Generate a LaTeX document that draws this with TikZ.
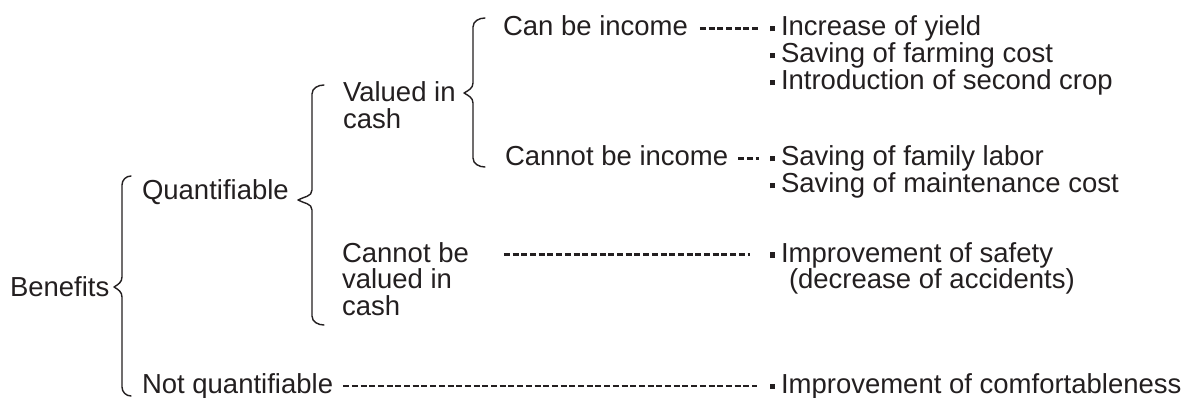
\documentclass[tikz,border=0pt]{standalone}
\usepackage{fontspec}
\setmainfont{Liberation Sans}
\usetikzlibrary{calc}
\definecolor{ink}{RGB}{35,31,32}
\newcommand\bulsq{\rule[4.5pt]{5pt}{5pt}\hspace{6pt}}
\newcommand\mybrace[6]{%
  \draw[brace] (#3,#4) to[out=180,in=90] (#1,#4+9) -- (#1,#6-10)
    to[out=270,in=30] (#2,#6) to[out=-30,in=90] (#1,#6+10) -- (#1,#5-9)
    to[out=270,in=180] (#3,#5);}
\begin{document}
\begin{tikzpicture}[x=1pt,y=-1pt,
  lbl/.style={anchor=base west, inner sep=0pt, outer sep=0pt, font=\fontsize{27.5}{32}\selectfont, text=ink},
  brace/.style={draw=ink, line width=1.4pt, line join=round, line cap=round},
  dashln/.style={draw=ink, line width=2.2pt, dash pattern=on 6pt off 2.7pt},
]
\useasboundingbox (0,0) rectangle (1184,398);
% labels
\node[lbl] (ben) at (10,297) {Benefits};
\node[lbl] (quant) at (142,200) {Quantifiable};
\node[lbl] (notq) at (142,393) {Not quantifiable};
\node[lbl] (val1) at (343,102) {Valued in};
\node[lbl] (val2) at (343,129) {cash};
\node[lbl] (cnv1) at (342,262) {Cannot be};
\node[lbl] (cnv2) at (342,289) {valued in};
\node[lbl] (cnv3) at (342,316) {cash};
\node[lbl] (canbe) at (503,36) {Can be income};
\node[lbl] (cannot) at (505,166) {Cannot be income};
% items
\node[lbl] (b1) at (770,36) {\bulsq Increase of yield};
\node[lbl] (b2) at (770,63) {\bulsq Saving of farming cost};
\node[lbl] (b3) at (770,90) {\bulsq Introduction of second crop};
\node[lbl] (b4) at (770,166) {\bulsq Saving of family labor};
\node[lbl] (b5) at (770,193) {\bulsq Saving of maintenance cost};
\node[lbl] (b6) at (770,262) {\bulsq Improvement of safety};
\node[lbl] (b6b) at (789,289) {(decrease of accidents)};
\node[lbl] (b8) at (770,393) {\bulsq Improvement of comfortableness};
% braces
\mybrace{122}{114}{131}{176}{396}{287}
\mybrace{312}{298}{324}{85}{325}{200}
\mybrace{473}{464}{485}{18}{167}{93}
% dashed leaders
\draw[dashln] ([xshift=12pt,yshift=7.4pt]canbe.base east) -- ([xshift=-11pt,yshift=7.4pt]b1.base west);
\draw[dashln] ([xshift=10pt,yshift=7.4pt]cannot.base east) -- ([xshift=-11pt,yshift=7.4pt]b4.base west);
\draw[dashln] ([xshift=35pt,yshift=7.4pt]cnv1.base east) -- ([xshift=-20pt,yshift=7.4pt]b6.base west);
\draw[dashln] ([xshift=10pt,yshift=7.4pt]notq.base east) -- ([xshift=-13pt,yshift=7.4pt]b8.base west);
\end{tikzpicture}
\end{document}
